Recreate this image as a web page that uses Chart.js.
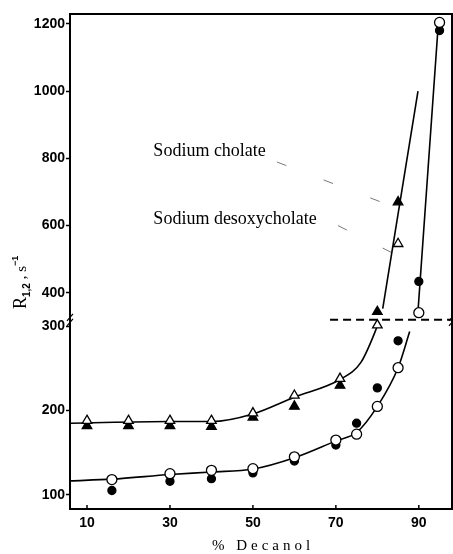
<!DOCTYPE html>
<html>
<head>
<meta charset="utf-8">
<script src="https://cdn.jsdelivr.net/npm/chart.js@4.4.1/dist/chart.umd.min.js"></script>
<style>
    html, body { margin: 0; padding: 0; background: #fff; }
    #wrap { width: 453px; height: 554px; }
</style>
</head>
<body>
<div id="wrap"><canvas id="decanolChart" width="453" height="554"></canvas></div>
<script>
// x axis: % decanol
const xTicks = [10, 30, 50, 70, 90];
// y axis: R1,2 (s-1), broken between 300 and 400
const yTicks = [100, 200, 300, 400, 600, 800, 1000, 1200];

// Sodium cholate (triangles)
const cholateX = [10, 20, 30, 40, 50, 60, 71, 80, 85];
const cholateOpen = [188, 188, 188, 188, 197, 218, 238, 304, 546];
const cholateFilled = [182, 182, 182, 181, 192, 205, 230, 344, 670];

// Sodium desoxycholate (circles)
const desoxyX = [16, 30, 40, 50, 60, 70, 75, 80, 85, 90, 95];
const desoxyOpen = [118, 125, 129, 131, 145, 165, 172, 205, 251, 341, 1204];
const desoxyFilled = [105, 116, 119, 126, 140, 159, 185, 227, 283, 434, 1180];

// hand drawn curves
const cholateFitX = [6, 30, 40, 50, 60, 71, 76, 79.4, 80.3];
const cholateFitY = [185, 187, 187, 196, 216, 237, 257, 293, 314];
const cholateSteepX = [81.3, 89.8];
const cholateSteepY = [353, 1000];
const desoxyFitX = [6, 16, 30, 40, 50, 60, 70, 75, 80, 85, 87.8];
const desoxyFitY = [116.5, 118.5, 124, 127, 130.5, 144, 164, 174, 205, 251, 294];
const desoxySteepX = [89.8, 94.7];
const desoxySteepY = [345, 1200];

// dashed line where the axis is broken
const breakX = [68.6, 98];
const breakY = [320, 320];

// leader lines from the names to the curves
const cholateLeaderX = [55.8, 84.7];
const cholateLeaderY = [789, 652];
const desoxyLeaderX = [70.5, 90.7];
const desoxyLeaderY = [600, 475];

const seriesNames = ['Sodium cholate', 'Sodium desoxycholate'];

// axis break: values above 300 are squeezed
const BREAK = 300;
const SQUEEZE = 0.4;
function toAxis(v) { return v <= BREAK ? v : BREAK + (v - BREAK) * SQUEEZE; }
function fromAxis(a) { return a <= BREAK ? a : BREAK + (a - BREAK) / SQUEEZE; }

const LinearBase = Chart.LinearScale || Chart.registry.getScale('linear');
class BrokenLinearScale extends LinearBase {
    buildTicks() {
        return yTicks.map(v => ({ value: v }));
    }
    getPixelForValue(value) {
        if (value === null || value === undefined) return NaN;
        const lo = toAxis(this.min), hi = toAxis(this.max);
        return this.getPixelForDecimal((toAxis(value) - lo) / (hi - lo));
    }
    getValueForPixel(pixel) {
        const lo = toAxis(this.min), hi = toAxis(this.max);
        return fromAxis(lo + this.getDecimalForPixel(pixel) * (hi - lo));
    }
}
BrokenLinearScale.id = 'brokenLinear';
BrokenLinearScale.defaults = LinearBase.defaults;
Chart.register(BrokenLinearScale);

function pts(xs, ys) {
    return xs.map((v, i) => ({ x: v, y: ys[i] }));
}

function markers(xs, ys, style, fill, radius, order) {
    return {
        data: pts(xs, ys),
        showLine: false,
        pointStyle: style,
        pointRadius: radius,
        pointBackgroundColor: fill,
        pointBorderColor: '#000',
        pointBorderWidth: 1.3,
        order: order
    };
}

function curve(xs, ys, extra) {
    return Object.assign({
        data: pts(xs, ys),
        showLine: true,
        pointRadius: 0,
        borderColor: '#000',
        borderWidth: 1.6,
        cubicInterpolationMode: 'monotone',
        order: 5
    }, extra || {});
}

const decorations = {
    id: 'decorations',
    afterDraw(chart) {
        const { ctx, chartArea: a, scales: { x, y } } = chart;
        ctx.save();
        ctx.strokeStyle = '#000';
        ctx.fillStyle = '#000';

        // frame top and right
        ctx.lineWidth = 2;
        ctx.beginPath();
        ctx.moveTo(a.left, a.top);
        ctx.lineTo(a.right, a.top);
        ctx.lineTo(a.right, a.bottom);
        ctx.stroke();

        // x tick marks pointing inward
        ctx.lineWidth = 1.5;
        xTicks.forEach(v => {
            const px = x.getPixelForValue(v);
            ctx.beginPath();
            ctx.moveTo(px, a.bottom);
            ctx.lineTo(px, a.bottom - 4);
            ctx.stroke();
        });

        // break marks on both vertical axes
        const yb = y.getPixelForValue(breakY[0]);
        ctx.lineWidth = 1.2;
        [a.left, a.right].forEach(px => {
            [-2, 3].forEach(d => {
                ctx.beginPath();
                ctx.moveTo(px - 3, yb + 3 + d);
                ctx.lineTo(px + 3, yb - 4 + d);
                ctx.stroke();
            });
        });

        // series names
        ctx.font = '18px "Liberation Serif"';
        ctx.textBaseline = 'middle';
        ctx.textAlign = 'left';
        ctx.fillText(seriesNames[0], x.getPixelForValue(26), y.getPixelForValue(822));
        ctx.fillText(seriesNames[1], x.getPixelForValue(26), y.getPixelForValue(620));

        // x title
        ctx.font = '15px "Liberation Serif"';
        if ('letterSpacing' in ctx) ctx.letterSpacing = '4px';
        ctx.textAlign = 'center';
        ctx.fillText('% Decanol', (a.left + a.right) / 2 + 2, 546);
        if ('letterSpacing' in ctx) ctx.letterSpacing = '0px';

        // y title: R1,2 , s-1
        ctx.translate(26, 309);
        ctx.rotate(-Math.PI / 2);
        ctx.textAlign = 'left';
        ctx.textBaseline = 'alphabetic';
        let cx = 0;
        const part = (txt, font, dy) => {
            ctx.font = font;
            ctx.fillText(txt, cx, dy);
            cx += ctx.measureText(txt).width;
        };
        part('R', '18px "Liberation Serif"', 0);
        part('1,2', 'bold 10px "Liberation Sans"', 4);
        part(' , s', '15px "Liberation Serif"', 0);
        part('\u22121', 'bold 9px "Liberation Sans"', -8);
        ctx.restore();
    }
};

const tickFont = { family: 'Liberation Sans', size: 14, weight: 'bold' };

new Chart(document.getElementById('decanolChart'), {
    type: 'scatter',
    data: {
        datasets: [
            markers(cholateX, cholateOpen, 'triangle', '#fff', 5.5, 0),
            markers(cholateX, cholateFilled, 'triangle', '#000', 5.5, 1),
            markers(desoxyX, desoxyOpen, 'circle', '#fff', 5, 0),
            markers(desoxyX, desoxyFilled, 'circle', '#000', 4, 1),
            curve(cholateFitX, cholateFitY),
            curve(cholateSteepX, cholateSteepY),
            curve(desoxyFitX, desoxyFitY),
            curve(desoxySteepX, desoxySteepY),
            curve(breakX, breakY, { borderDash: [8, 5], borderWidth: 2, cubicInterpolationMode: 'default', order: 6 }),
            curve(cholateLeaderX, cholateLeaderY, { borderDash: [10, 40], borderWidth: 0.8, borderColor: '#555', order: 7 }),
            curve(desoxyLeaderX, desoxyLeaderY, { borderDash: [10, 40], borderWidth: 0.8, borderColor: '#555', order: 7 })
        ]
    },
    options: {
        responsive: false,
        animation: false,
        layout: { autoPadding: false, padding: { top: 14, right: 1, left: 0, bottom: 0 } },
        plugins: {
            legend: { display: false },
            tooltip: { enabled: false }
        },
        scales: {
            x: {
                type: 'linear',
                min: 5.9,
                max: 98,
                afterBuildTicks: s => { s.ticks = xTicks.map(v => ({ value: v })); },
                afterFit: s => { s.height = 45; },
                grid: { display: true, drawOnChartArea: false, drawTicks: false },
                border: { color: '#000', width: 2 },
                ticks: { color: '#000', font: tickFont, padding: 6, autoSkip: false, maxRotation: 0 }
            },
            y: {
                type: 'brokenLinear',
                min: 83,
                max: 1229,
                afterFit: s => { s.width = 70; },
                grid: { display: true, drawOnChartArea: false, drawTicks: true, tickLength: 4, color: '#000', tickWidth: 1.5 },
                border: { color: '#000', width: 2 },
                ticks: { color: '#000', font: tickFont, padding: 1, autoSkip: false, callback: v => String(v) }
            }
        }
    },
    plugins: [decorations]
});
</script>
</body>
</html>
